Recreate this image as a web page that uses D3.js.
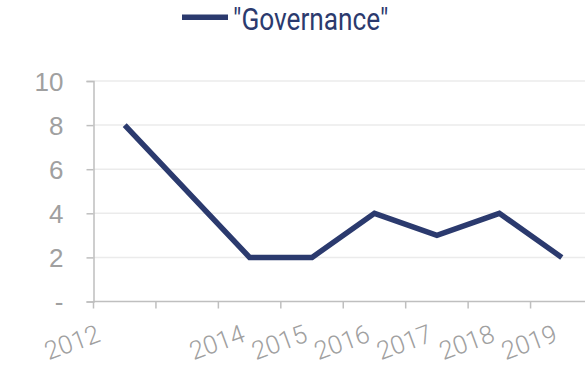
<!DOCTYPE html>
<html>
<head>
<meta charset="utf-8">
<script src="https://cdn.jsdelivr.net/npm/d3@7"></script>
<style>
  body { margin: 0; background: #fff; }
  svg { display: block; font-family: Roboto, "Open Sans", sans-serif; }
</style>
</head>
<body>
<script>
const width = 585, height = 366;

// data
const years = ["2012", "", "2014", "2015", "2016", "2017", "2018", "2019"];
const governance = [8, null, 2, 2, 4, 3, 4, 2];
const yTicks = [0, 2, 4, 6, 8, 10];
const seriesName = '"Governance"';

const navy = "#2b3a6e";
const grey = "#a0a0a0";

const margin = { top: 81, left: 93.5, bottom: 64.5 };
const plotRight = 593;

const svg = d3.select("body").append("svg")
    .attr("width", width)
    .attr("height", height);

const x = d3.scaleBand()
    .domain(years.map((d, i) => i))
    .range([margin.left, plotRight]);

const y = d3.scaleLinear()
    .domain([0, 10])
    .range([height - margin.bottom, margin.top]);

// gridlines
svg.append("g")
  .selectAll("line")
  .data(yTicks.filter(d => d > 0))
  .enter().append("line")
    .attr("x1", margin.left)
    .attr("x2", plotRight)
    .attr("y1", d => y(d))
    .attr("y2", d => y(d))
    .attr("stroke", "#ebebeb")
    .attr("stroke-width", 1.5);

// y axis
const yAxis = svg.append("g")
    .attr("transform", `translate(${margin.left},0)`)
    .call(d3.axisLeft(y).tickValues(yTicks).tickSize(7).tickPadding(23)
      .tickFormat(d => d === 0 ? "-" : d));
yAxis.select(".domain").attr("stroke", "#bfbfbf").attr("stroke-width", 1.5);
yAxis.selectAll(".tick line").attr("stroke", "#bfbfbf").attr("stroke-width", 1.5);
yAxis.selectAll(".tick text")
    .attr("fill", grey)
    .style("font-size", "26px")
    .style("font-weight", 300)
    .attr("dy", "0.36em");

// x axis: ticks sit on the band edges
const xAxis = svg.append("g")
    .attr("transform", `translate(0,${y(0)})`);
xAxis.append("line")
    .attr("x1", margin.left)
    .attr("x2", plotRight)
    .attr("stroke", "#bfbfbf")
    .attr("stroke-width", 1.5);
xAxis.selectAll(".tk")
  .data(years.map((d, i) => i))
  .enter().append("line")
    .attr("class", "tk")
    .attr("x1", d => x(d))
    .attr("x2", d => x(d))
    .attr("y1", 0)
    .attr("y2", 7)
    .attr("stroke", "#bfbfbf")
    .attr("stroke-width", 1.5);

xAxis.selectAll("text")
  .data(years)
  .enter().append("text")
    // the first label sits further left in the original
    .attr("transform", (d, i) => {
      const cx = x(i) + x.bandwidth() / 2 - 3 - (i === 0 ? 20 : 0);
      return `translate(${cx},39.5) rotate(-20)`;
    })
    .attr("text-anchor", "end")
    .attr("fill", grey)
    .style("font-size", "25.5px")
    .style("font-weight", 300)
    .text(d => d);

// the series line, skipping the empty year
const line = d3.line()
    .x(d => x(d.i) + x.bandwidth() / 2)
    .y(d => y(d.v));

const pts = governance.map((v, i) => ({ i, v })).filter(d => d.v !== null);

svg.append("path")
    .datum(pts)
    .attr("fill", "none")
    .attr("stroke", navy)
    .attr("stroke-width", 5.5)
    .attr("stroke-linejoin", "miter")
    .attr("d", line);

// legend
const legend = svg.append("g").attr("transform", "translate(182,17.3)");
legend.append("line")
    .attr("x1", 0).attr("x2", 46)
    .attr("stroke", navy)
    .attr("stroke-width", 5.5);
legend.append("text")
    .attr("transform", "translate(51,12.7) scale(0.82,1)")
    .attr("fill", navy)
    .style("font-size", "32px")
    .text(seriesName);
</script>
</body>
</html>
